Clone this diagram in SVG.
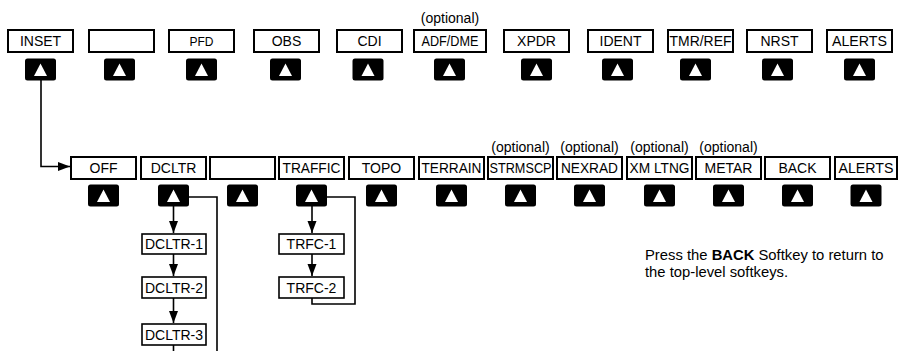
<svg xmlns="http://www.w3.org/2000/svg" width="899" height="351" viewBox="0 0 899 351">
<defs>
<style>
.box{fill:#fff;stroke:#000;stroke-width:2}
.sbox{fill:#fff;stroke:#000;stroke-width:1.6}
.lbl{font-family:"Liberation Sans",Arial,sans-serif;font-size:14px;fill:#000;text-anchor:middle}
.opt{font-family:"Liberation Sans",Arial,sans-serif;font-size:14px;fill:#000;text-anchor:middle}
.note{font-family:"Liberation Sans",Arial,sans-serif;font-size:14.8px;fill:#000}
.btn{fill:#000}
.tri{fill:#fff}
.ln{fill:none;stroke:#000;stroke-width:1.6}
</style>
<marker id="ah" viewBox="0 0 12 10" refX="12" refY="5" markerWidth="12" markerHeight="10" markerUnits="userSpaceOnUse" orient="auto">
<path d="M0,0.5 L12,5 L0,9.5 Z" fill="#000"/>
</marker>
<g id="key">
<rect class="btn" x="-15.5" y="0" width="31" height="22" rx="2.5"/>
<path class="tri" d="M0,5 L6.5,17.5 L-6.5,17.5 Z"/>
</g>
</defs>
<rect width="899" height="351" fill="#fff"/>

<!-- Top row -->
<g id="top-inset"><rect class="box" x="8" y="30" width="65" height="22"/><text class="lbl" x="40.5" y="45.5">INSET</text><use href="#key" x="40.5" y="58.5"/></g>
<g id="top-blank"><rect class="box" x="89" y="30" width="65" height="22"/><use href="#key" x="119.5" y="58.5"/></g>
<g id="top-pfd"><rect class="box" x="169" y="30" width="65" height="22"/><text class="lbl" x="201.5" y="45.5" style="font-size:12px">PFD</text><use href="#key" x="201.5" y="58.5"/></g>
<g id="top-obs"><rect class="box" x="254" y="30" width="65" height="22"/><text class="lbl" x="286.5" y="45.5">OBS</text><use href="#key" x="285.5" y="58.5"/></g>
<g id="top-cdi"><rect class="box" x="337" y="30" width="65" height="22"/><text class="lbl" x="369.5" y="45.5">CDI</text><use href="#key" x="368" y="58.5"/></g>
<g id="top-adf"><text class="opt" x="450" y="23">(optional)</text><rect class="box" x="414" y="30" width="72" height="22"/><text class="lbl" x="450" y="45.5" textLength="57" lengthAdjust="spacingAndGlyphs">ADF/DME</text><use href="#key" x="449.5" y="58.5"/></g>
<g id="top-xpdr"><rect class="box" x="504" y="30" width="65" height="22"/><text class="lbl" x="536.5" y="45.5">XPDR</text><use href="#key" x="536.5" y="58.5"/></g>
<g id="top-ident"><rect class="box" x="588" y="30" width="65" height="22"/><text class="lbl" x="620.5" y="45.5">IDENT</text><use href="#key" x="617.5" y="58.5"/></g>
<g id="top-tmr"><rect class="box" x="668" y="30" width="65" height="22"/><text class="lbl" x="700.5" y="45.5" textLength="62" lengthAdjust="spacingAndGlyphs">TMR/REF</text><use href="#key" x="695.5" y="58.5"/></g>
<g id="top-nrst"><rect class="box" x="747" y="30" width="65" height="22"/><text class="lbl" x="779.5" y="45.5">NRST</text><use href="#key" x="777.5" y="58.5"/></g>
<g id="top-alerts"><rect class="box" x="827" y="30" width="65" height="22"/><text class="lbl" x="859.5" y="45.5" textLength="55" lengthAdjust="spacingAndGlyphs">ALERTS</text><use href="#key" x="859.5" y="58.5"/></g>

<!-- Second row -->
<g id="off"><rect class="box" x="71" y="157" width="65" height="22"/><text class="lbl" x="103.5" y="172.5">OFF</text><use href="#key" x="103.5" y="184.5"/></g>
<g id="dcltr"><rect class="box" x="141" y="157" width="65" height="22"/><text class="lbl" x="173.5" y="172.5">DCLTR</text><use href="#key" x="173.5" y="184.5"/></g>
<g id="blank2"><rect class="box" x="210" y="157" width="65" height="22"/><use href="#key" x="242.5" y="184.5"/></g>
<g id="traffic"><rect class="box" x="279" y="157" width="65" height="22"/><text class="lbl" x="311.5" y="172.5" textLength="58" lengthAdjust="spacingAndGlyphs">TRAFFIC</text><use href="#key" x="311.5" y="184.5"/></g>
<g id="topo"><rect class="box" x="349" y="157" width="65" height="22"/><text class="lbl" x="381.5" y="172.5">TOPO</text><use href="#key" x="381.5" y="184.5"/></g>
<g id="terrain"><rect class="box" x="419" y="157" width="65" height="22"/><text class="lbl" x="451.5" y="172.5" textLength="60" lengthAdjust="spacingAndGlyphs">TERRAIN</text><use href="#key" x="451.5" y="184.5"/></g>
<g id="strmscp"><text class="opt" x="520.5" y="152">(optional)</text><rect class="box" x="488" y="157" width="65" height="22"/><text class="lbl" x="520.5" y="172.5" textLength="62" lengthAdjust="spacingAndGlyphs">STRMSCP</text><use href="#key" x="520.5" y="184.5"/></g>
<g id="nexrad"><text class="opt" x="589.5" y="152">(optional)</text><rect class="box" x="557" y="157" width="65" height="22"/><text class="lbl" x="589.5" y="172.5" textLength="57" lengthAdjust="spacingAndGlyphs">NEXRAD</text><use href="#key" x="589.5" y="184.5"/></g>
<g id="xmltng"><text class="opt" x="659.5" y="152">(optional)</text><rect class="box" x="627" y="157" width="65" height="22"/><text class="lbl" x="659.5" y="172.5" textLength="60" lengthAdjust="spacingAndGlyphs">XM LTNG</text><use href="#key" x="659.5" y="184.5"/></g>
<g id="metar"><text class="opt" x="728.5" y="152">(optional)</text><rect class="box" x="696" y="157" width="65" height="22"/><text class="lbl" x="728.5" y="172.5">METAR</text><use href="#key" x="728.5" y="184.5"/></g>
<g id="back"><rect class="box" x="765" y="157" width="65" height="22"/><text class="lbl" x="797.5" y="172.5">BACK</text><use href="#key" x="797.5" y="184.5"/></g>
<g id="alerts2"><rect class="box" x="835" y="157" width="62" height="22"/><text class="lbl" x="866" y="172.5" textLength="55" lengthAdjust="spacingAndGlyphs">ALERTS</text><use href="#key" x="866" y="184.5"/></g>

<!-- Sub boxes -->
<g id="dcltr-1"><rect class="sbox" x="142" y="234" width="64" height="20"/><text class="lbl" x="174" y="249">DCLTR-1</text></g>
<g id="dcltr-2"><rect class="sbox" x="142" y="277" width="64" height="21"/><text class="lbl" x="174" y="292.5">DCLTR-2</text></g>
<g id="dcltr-3"><rect class="sbox" x="142" y="324" width="64" height="21"/><text class="lbl" x="174" y="339.5">DCLTR-3</text></g>
<g id="trfc-1"><rect class="sbox" x="279" y="234" width="65" height="20"/><text class="lbl" x="311.5" y="249">TRFC-1</text></g>
<g id="trfc-2"><rect class="sbox" x="279" y="277" width="65" height="21"/><text class="lbl" x="311.5" y="292.5">TRFC-2</text></g>

<!-- Connectors -->
<g id="connectors">
<path class="ln" d="M41,80 V166.5 H70" marker-end="url(#ah)"/>
<path class="ln" d="M173.5,206 V233" marker-end="url(#ah)"/>
<path class="ln" d="M173.5,254 V276" marker-end="url(#ah)"/>
<path class="ln" d="M173.5,298 V323" marker-end="url(#ah)"/>
<path class="ln" d="M173.5,345 V351"/>
<path class="ln" d="M189,197 H217 V351"/>
<path class="ln" d="M312,206 V233" marker-end="url(#ah)"/>
<path class="ln" d="M312,254 V276" marker-end="url(#ah)"/>
<path class="ln" d="M327,197 H355 V304 H312 V298"/>
</g>

<g id="note">
<text class="note" x="645" y="260">Press the <tspan font-weight="bold">BACK</tspan> Softkey to return to</text>
<text class="note" x="645" y="277">the top-level softkeys.</text>
</g>
</svg>
